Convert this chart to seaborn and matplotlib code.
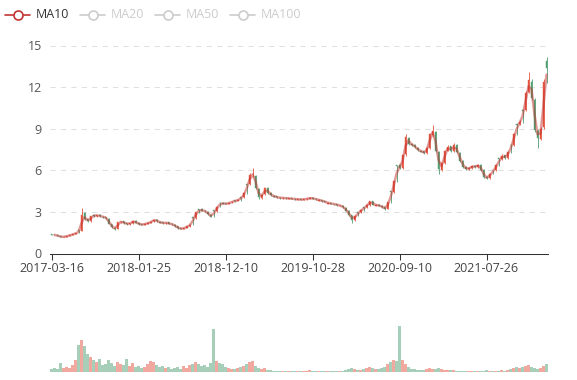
import numpy as np
import pandas as pd
import matplotlib
matplotlib.use("Agg")
from matplotlib import pyplot as plt
from matplotlib.lines import Line2D
import seaborn as sns

# one candle ~ 7.5 trading days
opens = [1.38, 1.35, 1.31, 1.25, 1.18, 1.22, 1.28, 1.34, 1.41, 1.66,
         1.65, 2.95, 2.48, 2.35, 2.78, 2.70, 2.80, 2.66, 2.62, 2.50,
         2.12, 1.85, 1.80, 2.24, 2.32, 2.18, 2.10, 2.20, 2.35, 2.20,
         2.12, 2.06, 2.16, 2.21, 2.31, 2.44, 2.30, 2.24, 2.18, 2.24,
         2.14, 2.08, 1.95, 1.84, 1.77, 1.85, 1.96, 2.60, 2.56, 3.20,
         3.18, 3.08, 3.02, 2.80, 3.12, 3.06, 3.66, 3.64, 3.61, 3.57,
         3.68, 3.84, 3.82, 4.06, 4.05, 5.00, 5.00, 5.70, 5.60, 4.65,
         4.02, 4.30, 4.72, 4.36, 4.18, 4.12, 4.03, 3.98, 4.03, 3.96,
         3.98, 3.94, 3.89, 3.93, 3.87, 3.91, 3.96, 4.03, 3.96, 3.82,
         3.84, 3.79, 3.58, 3.63, 3.58, 3.54, 3.42, 3.44, 3.30, 3.08,
         2.75, 2.40, 3.00, 2.96, 3.35, 3.32, 3.50, 3.76, 3.46, 3.52,
         3.44, 3.33, 3.24, 4.48, 4.42, 6.38, 6.35, 6.18, 7.15, 8.30,
         7.88, 7.86, 7.62, 7.40, 7.38, 7.22, 7.62, 8.55, 8.75, 7.35,
         6.05, 6.55, 7.42, 7.72, 7.38, 7.80, 7.28, 6.68, 6.22, 6.08,
         6.16, 6.32, 6.24, 6.38, 6.02, 5.52, 5.44, 6.05, 6.02, 6.86,
         6.82, 7.08, 6.88, 7.86, 7.82, 9.36, 9.35, 10.36, 10.35, 11.65,
         12.40, 11.10, 8.85, 8.28, 9.10, 13.90]
closes = [1.36, 1.32, 1.26, 1.19, 1.21, 1.27, 1.33, 1.40, 1.48, 1.62,
          2.75, 2.50, 2.32, 2.70, 2.72, 2.76, 2.68, 2.64, 2.55, 2.15,
          1.88, 1.76, 2.25, 2.30, 2.20, 2.12, 2.18, 2.33, 2.22, 2.10,
          2.08, 2.15, 2.20, 2.30, 2.45, 2.32, 2.22, 2.20, 2.22, 2.15,
          2.10, 1.96, 1.82, 1.78, 1.84, 1.95, 2.08, 2.55, 2.98, 3.15,
          3.10, 3.05, 2.82, 2.66, 3.05, 3.38, 3.62, 3.60, 3.58, 3.66,
          3.74, 3.80, 3.88, 4.02, 4.35, 4.95, 5.65, 5.75, 4.70, 4.05,
          4.25, 4.70, 4.38, 4.20, 4.10, 4.05, 4.00, 4.02, 3.98, 3.97,
          3.95, 3.90, 3.92, 3.88, 3.92, 3.95, 4.02, 3.95, 3.90, 3.85,
          3.78, 3.72, 3.62, 3.60, 3.55, 3.50, 3.45, 3.32, 3.10, 2.78,
          2.42, 2.72, 2.95, 3.15, 3.30, 3.52, 3.78, 3.52, 3.50, 3.45,
          3.35, 3.22, 3.70, 4.40, 5.20, 6.30, 6.20, 7.10, 8.40, 7.90,
          7.85, 7.65, 7.45, 7.35, 7.25, 7.60, 8.60, 8.80, 7.40, 6.10,
          6.50, 7.40, 7.70, 7.40, 7.85, 7.30, 6.70, 6.25, 6.10, 6.15,
          6.30, 6.25, 6.40, 6.05, 5.50, 5.45, 5.75, 6.00, 6.35, 6.80,
          7.05, 6.90, 7.30, 7.80, 8.60, 9.30, 9.50, 10.30, 11.60, 12.50,
          11.20, 8.90, 8.30, 9.00, 12.40, 13.40]
highs = [1.40, 1.37, 1.33, 1.27, 1.24, 1.29, 1.35, 1.42, 1.50, 1.66,
         3.30, 2.98, 2.52, 2.74, 2.82, 2.80, 2.84, 2.70, 2.66, 2.53,
         2.15, 1.89, 2.30, 2.36, 2.35, 2.22, 2.22, 2.38, 2.38, 2.24,
         2.15, 2.19, 2.24, 2.34, 2.50, 2.47, 2.33, 2.27, 2.26, 2.27,
         2.17, 2.10, 1.98, 1.87, 1.87, 1.98, 2.12, 2.60, 3.02, 3.22,
         3.25, 3.12, 3.05, 2.84, 3.15, 3.42, 3.68, 3.70, 3.64, 3.70,
         3.78, 3.84, 3.92, 4.08, 4.42, 5.02, 5.80, 6.20, 5.65, 4.70,
         4.30, 4.78, 4.80, 4.40, 4.22, 4.15, 4.06, 4.06, 4.06, 4.01,
         4.00, 3.97, 3.95, 3.96, 3.95, 3.98, 4.06, 4.06, 3.99, 3.94,
         3.87, 3.82, 3.73, 3.66, 3.60, 3.57, 3.51, 3.47, 3.34, 3.12,
         2.78, 2.76, 3.02, 3.20, 3.35, 3.56, 3.82, 3.80, 3.55, 3.56,
         3.47, 3.36, 3.75, 4.48, 5.28, 6.40, 6.45, 7.15, 8.60, 8.40,
         7.98, 7.92, 7.68, 7.48, 7.42, 7.66, 8.68, 9.30, 8.82, 7.40,
         6.58, 7.46, 7.80, 7.78, 7.95, 7.88, 7.32, 6.75, 6.28, 6.22,
         6.36, 6.38, 6.46, 6.42, 6.08, 5.58, 5.80, 6.05, 6.42, 6.88,
         7.15, 7.12, 7.36, 7.88, 8.70, 9.40, 9.62, 10.40, 11.70, 13.10,
         12.55, 11.20, 8.95, 9.10, 12.60, 14.20]
lows = [1.33, 1.30, 1.24, 1.16, 1.16, 1.20, 1.26, 1.32, 1.39, 1.48,
        1.62, 2.42, 2.26, 2.30, 2.66, 2.66, 2.63, 2.58, 2.50, 2.10,
        1.84, 1.72, 1.77, 2.20, 2.16, 2.08, 2.06, 2.16, 2.18, 2.06,
        2.04, 2.03, 2.13, 2.18, 2.28, 2.28, 2.18, 2.16, 2.15, 2.12,
        2.06, 1.92, 1.78, 1.74, 1.74, 1.82, 1.93, 2.06, 2.52, 2.90,
        3.05, 3.00, 2.78, 2.60, 2.64, 3.02, 3.35, 3.55, 3.54, 3.54,
        3.64, 3.72, 3.78, 3.82, 4.00, 4.32, 4.95, 5.55, 4.62, 3.95,
        3.92, 4.24, 4.30, 4.15, 4.05, 4.00, 3.96, 3.95, 3.94, 3.93,
        3.91, 3.86, 3.86, 3.84, 3.84, 3.88, 3.93, 3.91, 3.86, 3.80,
        3.74, 3.68, 3.58, 3.56, 3.51, 3.46, 3.41, 3.28, 3.05, 2.72,
        2.18, 2.36, 2.70, 2.92, 3.10, 3.28, 3.46, 3.48, 3.42, 3.40,
        3.30, 3.16, 3.20, 3.66, 4.36, 5.15, 6.10, 6.10, 7.05, 7.80,
        7.78, 7.58, 7.38, 7.30, 7.18, 7.15, 7.55, 8.45, 7.30, 5.75,
        5.98, 6.48, 7.36, 7.32, 7.30, 7.22, 6.62, 6.18, 6.02, 6.03,
        6.12, 6.20, 6.18, 5.98, 5.45, 5.36, 5.40, 5.70, 5.96, 6.30,
        6.76, 6.84, 6.84, 7.26, 7.75, 8.55, 9.25, 9.40, 10.25, 11.55,
        11.05, 8.75, 7.60, 8.20, 9.00, 12.30]
volumes = [30, 40, 30, 90, 40, 50, 40, 70, 120, 270,
           320, 260, 180, 150, 120, 100, 130, 70, 80, 120,
           90, 60, 100, 80, 70, 130, 60, 90, 50, 60,
           40, 50, 80, 110, 100, 70, 50, 60, 40, 50,
           30, 40, 50, 30, 60, 40, 70, 80, 100, 80,
           60, 70, 50, 90, 430, 110, 90, 80, 50, 40,
           30, 30, 40, 50, 60, 80, 100, 110, 60, 40,
           30, 40, 20, 20, 15, 15, 10, 15, 10, 10,
           15, 10, 10, 15, 10, 10, 20, 15, 10, 10,
           10, 10, 15, 10, 10, 15, 10, 15, 20, 30,
           40, 30, 20, 20, 30, 40, 50, 40, 30, 30,
           40, 50, 80, 100, 120, 110, 460, 120, 80, 50,
           30, 30, 20, 20, 20, 30, 40, 30, 30, 40,
           30, 20, 20, 20, 20, 15, 15, 10, 10, 10,
           15, 10, 10, 10, 15, 20, 10, 10, 10, 15,
           20, 15, 20, 30, 40, 50, 40, 50, 60, 70,
           50, 40, 30, 40, 60, 80]
tick_labels = ["2017-03-16", "2018-01-25", "2018-12-10",
               "2019-10-28", "2020-09-10", "2021-07-26"]
legend_names = ["MA10", "MA20", "MA50", "MA100"]

UP = "#e5533f"
DOWN = "#4f9e72"
MA_COLOR = "#c23531"
W, H = 577, 380

df = pd.DataFrame({"open": opens, "close": closes, "high": highs,
                   "low": lows, "volume": volumes})
df["idx"] = np.arange(len(df))
df["ma10"] = df["close"].rolling(2).mean()
up = df["close"] >= df["open"]
colors = np.where(up, UP, DOWN)

sns.set_theme(style="white")
plt.rcParams["font.family"] = ["Open Sans", "DejaVu Sans"]

fig = plt.figure(figsize=(W / 100, H / 100), dpi=100)
ax = fig.add_axes([50 / W, 1 - 253.5 / H, 498 / W, 208 / H])
vax = fig.add_axes([50 / W, 1 - 372 / H, 498 / W, 54 / H])

# candles
ax.vlines(df["idx"], df["low"], df["high"], colors=colors, lw=0.6, zorder=2)
body_bottom = df[["open", "close"]].min(axis=1)
body_height = (df["close"] - df["open"]).abs()
ax.bar(df["idx"], body_height, bottom=body_bottom, width=0.55,
       color=colors, edgecolor=colors, linewidth=0.3, zorder=3)
sns.lineplot(data=df, x="idx", y="ma10", ax=ax, color=MA_COLOR,
             alpha=0.5, lw=1.8, zorder=4)

ax.set_xlim(-0.5, len(df) - 0.5)
ax.set_ylim(0, 15)
ax.set_yticks([0, 3, 6, 9, 12, 15])
ax.set_xticks(range(0, len(df), 29))
ax.set_xticklabels(tick_labels)
ax.set_xlabel("")
ax.set_ylabel("")
for v in [3, 6, 9, 12, 15]:
    ax.axhline(v, color="#e0e0e0", lw=0.75, ls=(0, (5, 5)), zorder=0)
for s in ["top", "right", "left"]:
    ax.spines[s].set_visible(False)
ax.spines["bottom"].set_color("#333333")
ax.spines["bottom"].set_linewidth(0.75)
ax.tick_params(axis="x", length=4, width=0.75, color="#333333",
               labelsize=9, labelcolor="#444444", pad=2, bottom=True)
ax.tick_params(axis="y", length=0, labelsize=9, labelcolor="#555555", pad=6)

# volume
vax.bar(df["idx"], df["volume"], width=0.7, color=colors, alpha=0.5,
        linewidth=0)
vax.set_xlim(-0.5, len(df) - 0.5)
vax.set_ylim(0, 540)
vax.axis("off")

# legend, drawn by hand like the echarts one (line + hollow circle icon)
for k, name in enumerate(legend_names):
    c = MA_COLOR if k == 0 else "#cccccc"
    x0 = 5 + 75 * k
    y = 1 - 15 / H
    fig.add_artist(Line2D([x0 / W, (x0 + 25) / W], [y, y], color=c,
                          lw=1.2, transform=fig.transFigure))
    fig.add_artist(Line2D([(x0 + 12.5) / W], [y], marker="o", markersize=6.5,
                          markerfacecolor="white", markeredgecolor=c,
                          markeredgewidth=1.2, transform=fig.transFigure))
    fig.text((x0 + 31) / W, y, name, fontsize=9, va="center", ha="left",
             color="#333333" if k == 0 else "#cccccc")

fig.savefig("out.png", dpi=100)
